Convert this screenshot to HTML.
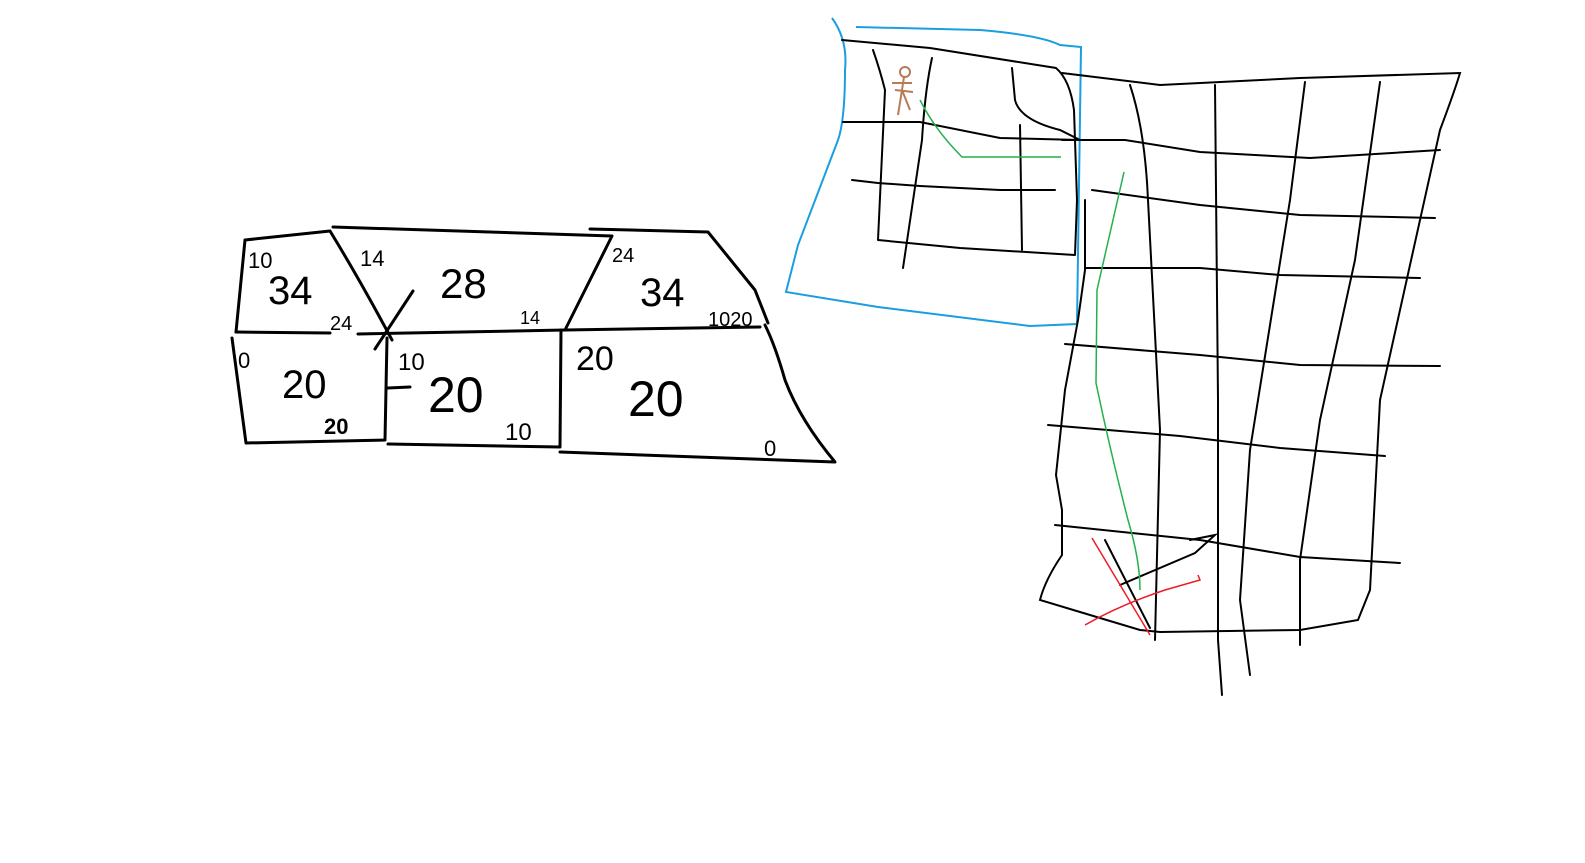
<!DOCTYPE html>
<html><head><meta charset="utf-8"><style>
html,body{margin:0;padding:0;background:#fff;}
svg{display:block}
text{font-family:"Liberation Sans",sans-serif;fill:#000;}
</style></head><body>
<svg width="1585" height="863" viewBox="0 0 1585 863">
<g fill="none" stroke="#000" stroke-width="3" stroke-linecap="round" stroke-linejoin="round">
<path d="M245,240 L330,231 M245,240 L236,332 M330,231 Q360,280 392,340"/>
<path d="M333,227 L612,236 L565,330 M413,291 L375,349"/>
<path d="M590,229 L708,232 L755,290 L768,323"/>
<path d="M236,332 L330,333 M358,334 L565,330 L760,327"/>
<path d="M232,338 L246,443 L385,440 M387,338 L385,440 M388,388 L410,387"/>
<path d="M388,444 L560,447 L561,330"/>
<path d="M560,452 L835,462 Q800,420 785,380 Q775,345 765,325"/>
</g>
<g>
<text x="248" y="268" font-size="22">10</text>
<text x="268" y="304" font-size="40" font-weight="300" fill="#222">34</text>
<text x="330" y="330" font-size="20">24</text>
<text x="360" y="266" font-size="22">14</text>
<text x="440" y="298" font-size="42">28</text>
<text x="520" y="324" font-size="18">14</text>
<text x="612" y="262" font-size="20">24</text>
<text x="640" y="306" font-size="40" font-weight="300">34</text>
<text x="708" y="326" font-size="20">1020</text>
<text x="238" y="368" font-size="22">0</text>
<text x="282" y="398" font-size="40">20</text>
<text x="324" y="434" font-size="22" font-weight="bold">20</text>
<text x="398" y="370" font-size="24">10</text>
<text x="428" y="412" font-size="50" font-weight="300">20</text>
<text x="505" y="440" font-size="24">10</text>
<text x="576" y="370" font-size="34" font-weight="300">20</text>
<text x="628" y="416" font-size="50" font-weight="300">20</text>
<text x="764" y="456" font-size="22">0</text>
</g>
<path fill="none" stroke="#1a9ee0" stroke-width="2" d="M832,18 Q848,40 845,70 Q845,120 838,140 L798,245 L786,292 L878,307 L1030,326 L1077,324 L1081,47 L1060,45 Q1040,35 980,30 L856,27"/>
<g fill="none" stroke="#000" stroke-width="2" stroke-linecap="round">
<path d="M842,40 L930,48 L1056,68 Q1070,80 1074,110 L1077,200 L1075,255 M843,122 L920,122 L1000,138 L1080,140 M852,180 L878,183 L920,186 L1000,190 L1055,190 M878,240 L960,248 L1075,255 M873,50 Q880,70 885,90 L878,240 M932,58 Q925,90 922,140 L903,268 M1012,68 L1015,100 Q1020,120 1060,130 L1080,140 M1020,125 L1022,250"/>
<path d="M1062,73 L1160,85 L1300,78 L1460,73 Q1455,90 1440,130 L1380,400 L1370,590 L1358,620 L1300,630 L1160,632 L1140,630 L1080,612 L1040,600 Q1045,580 1062,555 L1062,510 L1056,475 L1065,390 L1078,320 L1085,270 L1085,200"/>
<path d="M1062,140 L1125,140 L1200,152 L1310,158 L1440,150 M1092,190 L1200,205 L1300,215 L1435,218 M1085,268 L1200,268 L1280,275 L1420,278 M1065,344 L1200,355 L1300,365 L1440,366 M1048,425 L1180,436 L1280,448 L1385,456 M1055,525 L1200,540 L1300,557 L1400,563"/>
<path d="M1130,85 Q1145,130 1148,200 L1160,430 L1155,640 M1215,85 L1218,400 L1218,640 L1222,695 M1305,82 L1290,200 L1250,450 L1240,600 L1250,675 M1380,82 L1355,260 L1320,420 L1300,560 L1300,645"/>
<path d="M1105,540 L1150,628 M1120,585 L1195,553 L1215,535 L1190,540"/>
</g>
<g fill="none" stroke="#22b14c" stroke-width="1.5">
<path d="M920,100 Q935,130 962,157 L1061,157"/>
<path d="M1124,172 L1113,220 L1097,290 L1096,383 Q1110,450 1128,520 Q1140,560 1140,590"/>
</g>
<g fill="none" stroke="#ed1c24" stroke-width="1.5">
<path d="M1092,538 L1150,635"/>
<path d="M1085,625 Q1120,605 1165,590 L1200,580 L1198,575"/>
</g>
<g fill="none" stroke="#b97a57" stroke-width="2">
<circle cx="905" cy="72" r="5"/>
<path d="M904,77 L902,90 L898,115 M902,90 L910,110 M892,83 L912,83 M895,90 L913,92"/>
</g>
</svg>
</body></html>
